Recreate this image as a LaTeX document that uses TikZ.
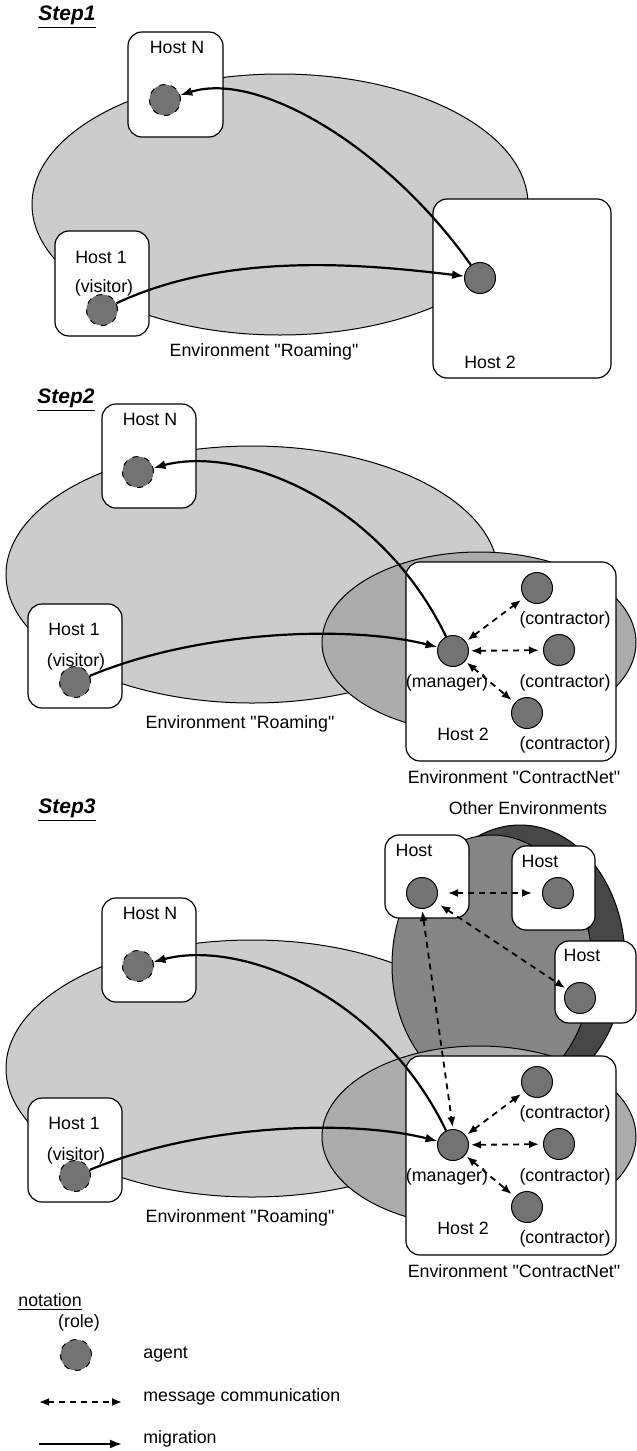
\documentclass[tikz,border=0pt]{standalone}
\usepackage{fontspec}
\setmainfont{Liberation Sans}[Ligatures=TeXOff]
\usetikzlibrary{positioning,fit,arrows.meta}

\begin{document}
\begin{tikzpicture}[x=0.5pt,y=-0.5pt]

\tikzset{env/.style={draw, line width=0.5pt},
         roaming/.style={env, fill=black!20},
         cnet/.style={env, fill=black!33},
         othermid/.style={env, fill=black!48},
         otherdark/.style={env, fill=black!72},
         hostbox/.style={draw, fill=white, rounded corners=7pt, inner sep=0pt, line width=0.6pt},
         agent/.style={circle, draw, fill=black!55, minimum size=15.5pt, inner sep=0pt, line width=0.5pt},
         visitor/.style={agent, dashed},
         txt/.style={font=\fontsize{8.9}{10}\selectfont, inner sep=0pt},
         stepname/.style={font=\fontsize{10.5}{12}\selectfont\bfseries\itshape, inner sep=0pt},
         migrate/.style={-{Latex[length=6pt,width=4.5pt]}, line width=1.1pt},
         message/.style={{Latex[length=5pt,width=4pt]}-{Latex[length=5pt,width=4pt]},
                         line width=0.9pt, dash pattern=on 3pt off 2.5pt}}

\useasboundingbox (0,0) rectangle (637,1451);

% Step1
\node[stepname] (step1) at (67,17) {\underline{Step1}};
\draw[roaming] (280,204.5) ellipse [x radius=248, y radius=130.5];
\node[hostbox, fit={(128,32) (223,137)}] (s1hn) {};
\node[hostbox, fit={(55,231) (149,336)}] (s1h1) {};
\node[hostbox, fit={(433,199) (611,378)}] (s1h2) {};
\node[txt] (s1hnlab) at (177,47) {Host N};
\node[txt] (s1h1lab) at (101,257) {Host 1};
\node[txt] (s1h1role) at (104,288) {(visitor)};
\node[txt] (s1h2lab) at (490,362) {Host 2};
\node[txt] (s1envlab) at (264,352) {Environment "Roaming"};
\node[visitor] (s1hna) at (165,100) {};
\node[visitor] (s1h1a) at (102,310) {};
\node[agent] (s1h2a) at (480,278) {};
\draw[migrate] (s1h1a) .. controls (230,250) and (370,265) .. (s1h2a);
\draw[migrate] (s1h2a) .. controls (390,150) and (260,70) .. (s1hna);

% Step2
\node[stepname] (step2) at (66,400) {\underline{Step2}};
\draw[roaming] (252,574.5) ellipse [x radius=246, y radius=128.5];
\draw[cnet] (479,642.5) ellipse [x radius=157, y radius=90.5];
\node[hostbox, fit={(102,404) (196,508)}] (s2hn) {};
\node[hostbox, fit={(28,604) (122,708)}] (s2h1) {};
\node[hostbox, fit={(406,562) (616,761)}] (s2h2) {};
\node[txt] (s2hnlab) at (150,419) {Host N};
\node[txt] (s2h1lab) at (74,629) {Host 1};
\node[txt] (s2h1role) at (76,662) {(visitor)};
\node[txt] (s2h2lab) at (463,734) {Host 2};
\node[txt] (s2manrole) at (447,683) {(manager)};
\node[txt] (s2c1role) at (565,620) {(contractor)};
\node[txt] (s2c2role) at (565,683) {(contractor)};
\node[txt] (s2c3role) at (565,745) {(contractor)};
\node[txt] (s2envlab) at (240,724) {Environment "Roaming"};
\node[txt] (s2cnetlab) at (514,777) {Environment "ContractNet"};
\node[visitor] (s2hna) at (138,472) {};
\node[visitor] (s2h1a) at (75,682) {};
\node[agent] (s2man) at (453,651) {};
\node[agent] (s2c1) at (537,588) {};
\node[agent] (s2c2) at (559,650) {};
\node[agent] (s2c3) at (527,713) {};
\draw[migrate] (s2h1a) .. controls (200,630) and (350,625) .. (s2man);
\draw[migrate] (s2man) .. controls (380,500) and (240,445) .. (s2hna);
\draw[message, shorten <=1pt, shorten >=2pt] (s2man) -- (s2c1);
\draw[message, shorten <=1pt, shorten >=2pt] (s2man) -- (s2c2);
\draw[message, shorten <=1pt, shorten >=2pt] (s2man) -- (s2c3);

% Step3
\node[stepname] (step3) at (67,810) {\underline{Step3}};
\node[txt] (s3otherlab) at (528,808) {Other Environments};
\draw[roaming] (252,1068.5) ellipse [x radius=246, y radius=128.5];
\draw[otherdark] (520,960) ellipse [x radius=105, y radius=135];
\draw[othermid] (492,965) ellipse [x radius=100, y radius=130];
\draw[cnet] (479,1136.5) ellipse [x radius=157, y radius=90.5];
\node[hostbox, fit={(385,835) (469,918)}] (s3tl) {};
\node[hostbox, fit={(512,846) (595,930)}] (s3tr) {};
\node[hostbox, fit={(555,941) (636,1023)}] (s3r) {};
\node[hostbox, fit={(102,898) (196,1002)}] (s3hn) {};
\node[hostbox, fit={(28,1098) (122,1202)}] (s3h1) {};
\node[hostbox, fit={(406,1056) (616,1255)}] (s3h2) {};
\node[txt] (s3tllab) at (414,850) {Host};
\node[txt] (s3trlab) at (540,861) {Host};
\node[txt] (s3rlab) at (582,955) {Host};
\node[txt] (s3hnlab) at (150,913) {Host N};
\node[txt] (s3h1lab) at (74,1123) {Host 1};
\node[txt] (s3h1role) at (76,1156) {(visitor)};
\node[txt] (s3h2lab) at (463,1228) {Host 2};
\node[txt] (s3manrole) at (447,1177) {(manager)};
\node[txt] (s3c1role) at (565,1114) {(contractor)};
\node[txt] (s3c2role) at (565,1177) {(contractor)};
\node[txt] (s3c3role) at (565,1239) {(contractor)};
\node[txt] (s3envlab) at (240,1218) {Environment "Roaming"};
\node[txt] (s3cnetlab) at (514,1271) {Environment "ContractNet"};
\node[agent] (s3tla) at (422,893) {};
\node[agent] (s3tra) at (558,893) {};
\node[agent] (s3ra) at (580,998) {};
\node[visitor] (s3hna) at (138,966) {};
\node[visitor] (s3h1a) at (75,1176) {};
\node[agent] (s3man) at (453,1145) {};
\node[agent] (s3c1) at (537,1082) {};
\node[agent] (s3c2) at (559,1144) {};
\node[agent] (s3c3) at (527,1207) {};
\draw[migrate] (s3h1a) .. controls (200,1124) and (350,1119) .. (s3man);
\draw[migrate] (s3man) .. controls (380,994) and (240,939) .. (s3hna);
\draw[message, shorten <=1pt, shorten >=2pt] (s3man) -- (s3c1);
\draw[message, shorten <=1pt, shorten >=2pt] (s3man) -- (s3c2);
\draw[message, shorten <=1pt, shorten >=2pt] (s3man) -- (s3c3);
\draw[message, shorten <=1pt, shorten >=1pt] (s3tla.south) -- (s3man.north);
\draw[message, shorten <=5pt, shorten >=5pt] (s3tla) -- (s3tra);
\draw[message, shorten <=3pt, shorten >=1pt] (s3tla) -- (s3ra);

% notation
\node[txt, anchor=west] (nottitle) at (18,1302) {\underline{notation}};
\node[txt] (notrole) at (79,1323) {(role)};
\node[visitor] (notagent) at (76,1355) {};
\node[txt, anchor=west] (notagentlab) at (143,1355) {agent};
\coordinate (msgl) at (39,1402);
\coordinate (msgr) at (122,1402);
\draw[message] (msgl) -- (msgr);
\node[txt, anchor=west] (notmsglab) at (143,1397) {message communication};
\coordinate (migl) at (39,1444);
\coordinate (migr) at (122,1444);
\draw[migrate] (migl) -- (migr);
\node[txt, anchor=west] (notmiglab) at (143,1439) {migration};

\end{tikzpicture}
\end{document}
